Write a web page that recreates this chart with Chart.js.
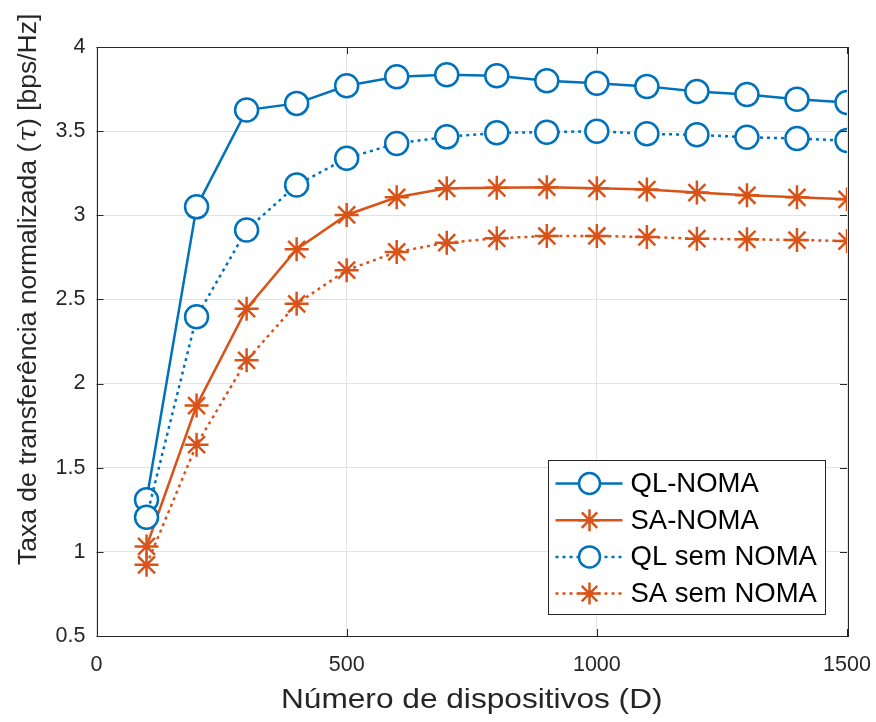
<!DOCTYPE html>
<html>
<head>
<meta charset="utf-8">
<script src="https://cdn.jsdelivr.net/npm/chart.js@4.4.1/dist/chart.umd.min.js"></script>
<style>
  html, body { margin: 0; padding: 0; background: #fff; }
  #wrap { width: 876px; height: 722px; }
</style>
</head>
<body>
<div id="wrap"><canvas id="chart" width="876" height="722"></canvas></div>
<script>
// ---- data ----
const devices = [100, 200, 300, 400, 500, 600, 700, 800, 900, 1000, 1100, 1200, 1300, 1400, 1500];
const qlNoma    = [1.31, 3.05, 3.625, 3.665, 3.77, 3.823, 3.835, 3.829, 3.80, 3.784, 3.766, 3.736, 3.718, 3.689, 3.67];
const saNoma    = [1.032, 1.869, 2.445, 2.798, 3.002, 3.107, 3.16, 3.163, 3.167, 3.16, 3.153, 3.135, 3.119, 3.107, 3.095];
const qlSemNoma = [1.206, 2.397, 2.913, 3.18, 3.339, 3.427, 3.466, 3.49, 3.494, 3.5, 3.484, 3.478, 3.464, 3.456, 3.444];
const saSemNoma = [0.923, 1.637, 2.138, 2.474, 2.674, 2.782, 2.837, 2.863, 2.877, 2.877, 2.871, 2.861, 2.857, 2.853, 2.847];
const xTicks = [0, 500, 1000, 1500];
const yTicks = [0.5, 1, 1.5, 2, 2.5, 3, 3.5, 4];
const xTitle = "Número de dispositivos (D)";
const yTitleParts = ["Taxa de transferência normalizada (", "τ", ") [bps/Hz]"];

const BLUE = "#0072BD";
const ORANGE = "#D95319";
const AXIS = "#262626";
const FONT = "'Liberation Sans', Arial, sans-serif";

function pts(ys) {
  return devices.map((x, i) => ({ x: x, y: ys[i] }));
}

function series(label, ys, color, style, dotted, order) {
  return {
    label: label,
    data: pts(ys),
    borderColor: color,
    backgroundColor: "#fff",
    borderWidth: 2.5,
    borderDash: dotted ? [3, 4] : [],
    pointStyle: style,
    pointRadius: style === "circle" ? 11.5 : 12,
    pointBorderWidth: 2.5,
    pointBorderColor: color,
    pointBackgroundColor: "#fff",
    tension: 0,
    order: order
  };
}

// moldura, marcas internas, títulos e legenda (estilo MATLAB)
const framePlugin = {
  id: "frame",
  afterDraw(chart) {
    const { ctx, chartArea: a, scales } = chart;
    ctx.save();
    ctx.strokeStyle = AXIS;
    ctx.lineWidth = 1;
    ctx.beginPath();
    xTicks.forEach(v => {
      const px = Math.round(scales.x.getPixelForValue(v)) + 0.5;
      ctx.moveTo(px, a.bottom); ctx.lineTo(px, a.bottom - 7);
      ctx.moveTo(px, a.top); ctx.lineTo(px, a.top + 7);
    });
    yTicks.forEach(v => {
      const py = Math.round(scales.y.getPixelForValue(v)) + 0.5;
      ctx.moveTo(a.left, py); ctx.lineTo(a.left + 7, py);
      ctx.moveTo(a.right, py); ctx.lineTo(a.right - 7, py);
    });
    ctx.stroke();
    ctx.strokeRect(Math.round(a.left) + 0.5, Math.round(a.top) + 0.5,
                   Math.round(a.right - a.left), Math.round(a.bottom - a.top));

    // título do eixo x
    ctx.fillStyle = AXIS;
    ctx.save();
    ctx.translate((a.left + a.right) / 2, a.bottom + 72);
    ctx.scale(1.13, 1);
    ctx.font = "28px " + FONT;
    ctx.textAlign = "center";
    ctx.textBaseline = "alphabetic";
    ctx.fillText(xTitle, 0, 0);
    ctx.restore();

    // título do eixo y (τ em itálico)
    ctx.save();
    ctx.translate(36, a.bottom - 71);
    ctx.rotate(-Math.PI / 2);
    ctx.textAlign = "left";
    ctx.textBaseline = "alphabetic";
    let tx = 0;
    yTitleParts.forEach((part, i) => {
      ctx.font = i === 1 ? "italic 26.5px 'DejaVu Serif', serif" : "26.5px " + FONT;
      ctx.fillText(part, tx, 0);
      tx += ctx.measureText(part).width + (i === 0 ? 2 : 0);
    });
    ctx.restore();

    // legenda dentro do gráfico
    const bw = 277, bh = 154;
    const bx = Math.round(a.right - 22 - bw) + 0.5;
    const by = Math.round(a.bottom - 22 - bh) + 0.5;
    ctx.fillStyle = "#fff";
    ctx.fillRect(bx, by, bw, bh);
    ctx.strokeRect(bx, by, bw, bh);
    chart.data.datasets.forEach((ds, i) => {
      const cy = by + 23 + i * 36.7;
      ctx.save();
      ctx.strokeStyle = ds.borderColor;
      ctx.lineWidth = ds.borderWidth;
      ctx.setLineDash(ds.borderDash);
      ctx.beginPath();
      ctx.moveTo(bx + 7, cy);
      ctx.lineTo(bx + 74, cy);
      ctx.stroke();
      ctx.setLineDash([]);
      ctx.fillStyle = "#fff";
      ctx.lineWidth = ds.pointBorderWidth;
      Chart.helpers.drawPoint(ctx, {
        pointStyle: ds.pointStyle,
        radius: ds.pointStyle === "circle" ? 10.5 : 11,
        rotation: 0,
        borderWidth: ds.pointBorderWidth
      }, bx + 41, cy);
      ctx.restore();
      ctx.fillStyle = "#000";
      ctx.font = "27.5px " + FONT;
      ctx.textBaseline = "middle";
      ctx.textAlign = "left";
      ctx.fillText(ds.label, bx + 82, cy + 1);
    });
    ctx.restore();
  }
};

new Chart(document.getElementById("chart"), {
  type: "line",
  data: {
    datasets: [
      series("QL-NOMA", qlNoma, BLUE, "circle", false, 4),
      series("SA-NOMA", saNoma, ORANGE, "star", false, 3),
      series("QL sem NOMA", qlSemNoma, BLUE, "circle", true, 2),
      series("SA sem NOMA", saSemNoma, ORANGE, "star", true, 1)
    ]
  },
  plugins: [framePlugin],
  options: {
    responsive: false,
    animation: false,
    layout: { padding: { top: 47, right: 29, left: 0, bottom: 0 } },
    plugins: {
      legend: { display: false },
      tooltip: { enabled: false }
    },
    scales: {
      x: {
        type: "linear",
        min: 0,
        max: 1500,
        afterBuildTicks: s => { s.ticks = xTicks.map(v => ({ value: v })); },
        afterFit: s => { s.height = 86; s.paddingLeft = 0; s.paddingRight = 0; },
        grid: { color: "#e3e3e3", drawTicks: false, lineWidth: 1 },
        border: { display: false },
        ticks: {
          color: AXIS,
          font: { family: FONT, size: 21.5 },
          padding: 16,
          maxRotation: 0,
          callback: v => String(v)
        },
        title: { display: false }
      },
      y: {
        type: "linear",
        min: 0.5,
        max: 4,
        afterBuildTicks: s => { s.ticks = yTicks.map(v => ({ value: v })); },
        afterFit: s => { s.width = 96.5; s.paddingTop = 0; s.paddingBottom = 0; },
        grid: { color: "#e3e3e3", drawTicks: false, lineWidth: 1 },
        border: { display: false },
        ticks: {
          color: AXIS,
          font: { family: FONT, size: 21.5 },
          padding: 11,
          callback: v => String(v)
        },
        title: { display: false }
      }
    }
  }
});
</script>
</body>
</html>
